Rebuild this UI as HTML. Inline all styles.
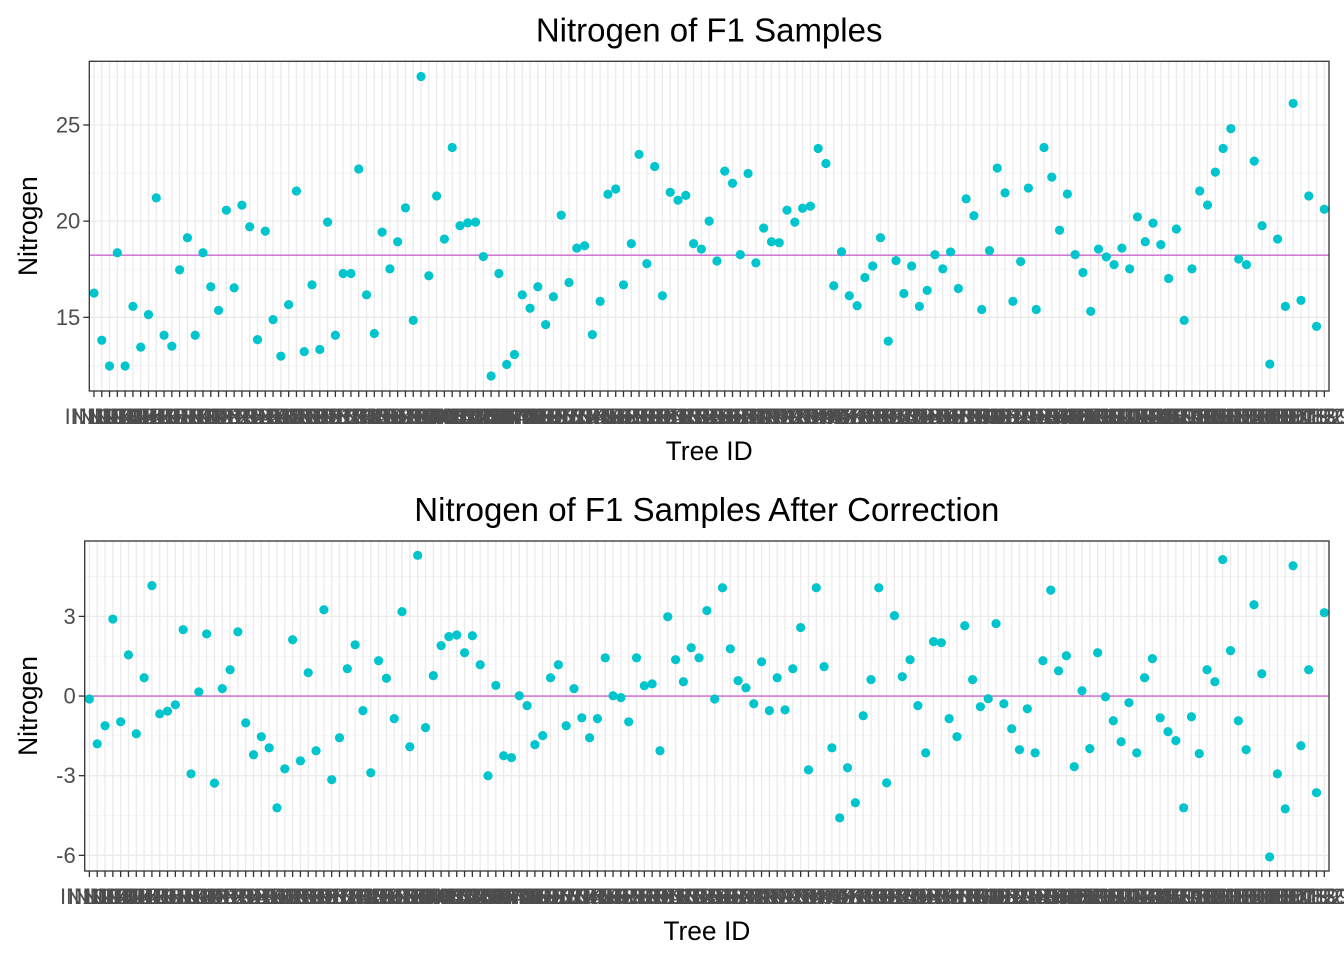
<!DOCTYPE html>
<html><head><meta charset="utf-8">
<style>
html,body{margin:0;padding:0;background:#fff;}
svg{display:block;font-family:"Liberation Sans",Arial,sans-serif;}
</style></head>
<body>
<svg id="chart" width="1344" height="960" viewBox="0 0 1344 960" xmlns="http://www.w3.org/2000/svg">
<rect width="1344" height="960" fill="#fff"/>
</svg>
<script>
const topValues = [16.26,13.81,12.47,18.36,12.47,15.57,13.45,15.14,21.21,14.07,13.50,17.47,19.14,14.07,18.36,16.59,15.36,20.57,16.53,20.83,19.71,13.84,19.48,14.88,12.98,15.66,21.57,13.22,16.69,13.33,19.95,14.07,17.28,17.28,22.71,16.17,14.16,19.43,17.52,18.93,20.69,14.84,27.52,17.16,21.31,19.07,23.83,19.76,19.91,19.95,18.16,11.95,17.28,12.55,
13.07,16.17,15.47,16.59,14.62,16.07,20.31,16.81,18.60,18.72,14.10,15.83,21.40,21.67,16.69,18.83,23.47,17.79,22.84,16.12,21.50,21.09,21.34,18.83,18.55,20.00,17.93,22.60,21.97,18.26,22.48,17.83,19.64,18.93,18.88,20.57,19.95,20.67,20.78,23.78,23.00,16.64,18.41,16.12,15.60,17.07,17.67,19.14,13.76,17.95,16.24,17.67,
15.57,16.40,18.26,17.52,18.40,16.50,21.16,20.28,15.41,18.47,22.76,21.47,15.83,17.90,21.72,15.41,23.83,22.29,19.53,21.41,18.26,17.33,15.31,18.55,18.14,17.74,18.60,17.52,20.22,18.93,19.90,18.78,17.02,19.59,14.84,17.52,21.57,20.84,22.55,23.78,24.81,18.03,17.74,23.12,19.76,12.57,19.07,15.57,26.12,15.88,21.31,14.53,20.62];
const bottomValues = [-0.11,-1.80,-1.12,2.90,-0.97,1.55,-1.42,0.69,4.16,-0.67,-0.57,-0.33,2.50,-2.93,0.16,2.34,-3.28,0.28,0.99,2.42,-1.01,-2.21,-1.53,-1.95,-4.21,-2.74,2.12,-2.44,0.88,-2.06,3.25,-3.15,-1.57,1.03,1.93,-0.55,-2.89,1.33,0.67,-0.85,3.18,-1.91,5.30,-1.19,0.77,1.90,2.24,2.30,1.63,2.27,1.18,-3.00,0.40,
-2.25,-2.32,0.01,-0.36,-1.83,-1.49,0.69,1.18,-1.12,0.28,-0.82,-1.57,-0.85,1.44,0.01,-0.06,-0.97,1.44,0.39,0.46,-2.06,2.99,1.37,0.54,1.82,1.44,3.22,-0.11,4.08,1.78,0.58,0.31,-0.29,1.29,-0.55,0.69,-0.52,1.03,2.58,-2.78,4.08,1.11,-1.95,-4.59,-2.70,-4.02,-0.74,0.62,4.08,-3.27,3.03,0.73,
1.37,-0.36,-2.14,2.05,2.01,-0.85,-1.53,2.65,0.62,-0.40,-0.10,2.73,-0.29,-1.23,-2.02,-0.48,-2.14,1.33,3.99,0.95,1.52,-2.66,0.20,-1.98,1.63,-0.03,-0.93,-1.72,-0.25,-2.14,0.69,1.41,-0.82,-1.34,-1.68,-4.21,-0.78,-2.17,0.99,0.54,5.14,1.71,-0.93,-2.02,3.44,0.84,-6.06,-2.93,-4.25,4.91,-1.87,0.99,-3.64,3.14];
const topMean = [18.23];
const bottomMean = [0];
const topTicks = [15,20,25];
const topMinor = [12.5,17.5,22.5,27.5];
const bottomTicks = [-6,-3,0,3];
const bottomMinor = [-4.5,-1.5,1.5,4.5];
const topTitle = ["Nitrogen of F1 Samples"];
const bottomTitle = ["Nitrogen of F1 Samples After Correction"];

const NS = "http://www.w3.org/2000/svg";
const svg = document.getElementById('chart');
function el(tag, attrs, parent){
  const e = document.createElementNS(NS, tag);
  for (const k in attrs) e.setAttribute(k, attrs[k]);
  (parent||svg).appendChild(e);
  return e;
}

function panel(cfg){
  const g = el('g', {});
  
  
  const {x0,x1,y0,y1,vmin,vmax,values} = cfg;
  const n = values.length;
  const step = (x1-x0)/(n-1+1.2);
  const xs = i => x0 + (0.6+i)*step;
  const ys = v => y1 - (v-vmin)/(vmax-vmin)*(y1-y0);
  // minor grid
  cfg.minor.forEach(v=>{
    const l = el('line',{x1:x0,x2:x1,y1:ys(v),y2:ys(v),stroke:'#f2f2f2','stroke-width':0.8},g);
    
    
  });
  cfg.ticks.forEach(v=>{
    const l = el('line',{x1:x0,x2:x1,y1:ys(v),y2:ys(v),stroke:'#ebebeb','stroke-width':1.3},g);
    
    
  });
  for(let i=0;i<n;i++){
    const l = el('line',{x1:xs(i),x2:xs(i),y1:y0,y2:y1,stroke:'#ebebeb','stroke-width':1.3},g);
    
    
  }
  // mean line
  const ml = el('line',{x1:x0,x2:x1,y1:ys(cfg.mean[0]),y2:ys(cfg.mean[0]),stroke:'#CC66CC','stroke-width':1.3},g);
  
  
  // points
  values.forEach((v,i)=>{
    const c = el('circle',{cx:xs(i),cy:ys(v),r:4.6,fill:'#00C5CD'},g);
    
    
  });
  // border
  const b = el('rect',{x:x0,y:y0,width:x1-x0,height:y1-y0,fill:'none',stroke:'#333','stroke-width':1.3},g);
  
  
  // y ticks
  cfg.ticks.forEach(v=>{
    const t = el('line',{x1:x0-6,x2:x0,y1:ys(v),y2:ys(v),stroke:'#333','stroke-width':1.3},g);
    
    
    const tx = el('text',{x:x0-9,y:ys(v)+7.5,'text-anchor':'end','font-size':22,fill:'#4d4d4d'},g);
    tx.textContent = String(v);
    
    
  });
  // x ticks + labels
  for(let i=0;i<n;i++){
    const t = el('line',{x1:xs(i),x2:xs(i),y1:y1,y2:y1+6,stroke:'#333','stroke-width':1.3},g);
    
    
    const tx = el('text',{x:xs(i),y:y1+33,'text-anchor':'middle','font-size':22,fill:'#4d4d4d'},g);
    tx.textContent = 'IN' + String(100+i*7);
    
    
  }
  const cx = (x0+x1)/2;
  const tt = el('text',{x:cx,y:y0-20,'text-anchor':'middle','font-size':33,fill:'#000'},g);
  tt.textContent = cfg.title[0];
  
  
  const xt = el('text',{x:cx,y:y1+69,'text-anchor':'middle','font-size':26.4,fill:'#000'},g);
  xt.textContent = 'Tree ID';
  
  
  const cy = (y0+y1)/2;
  const yt = el('text',{x:0,y:0,'text-anchor':'middle','font-size':26.4,fill:'#000',transform:`translate(37,${cy}) rotate(-90)`},g);
  yt.textContent = 'Nitrogen';
  
  
}

panel({name:'top-panel',x0:89.3,x1:1329,y0:61.3,y1:391,vmin:11.17,vmax:28.31,values:topValues,mean:topMean,ticks:topTicks,minor:topMinor,title:topTitle});
panel({name:'bottom-panel',x0:84.7,x1:1329,y0:541,y1:871,vmin:-6.59,vmax:5.84,values:bottomValues,mean:bottomMean,ticks:bottomTicks,minor:bottomMinor,title:bottomTitle});
</script>
</body></html>
